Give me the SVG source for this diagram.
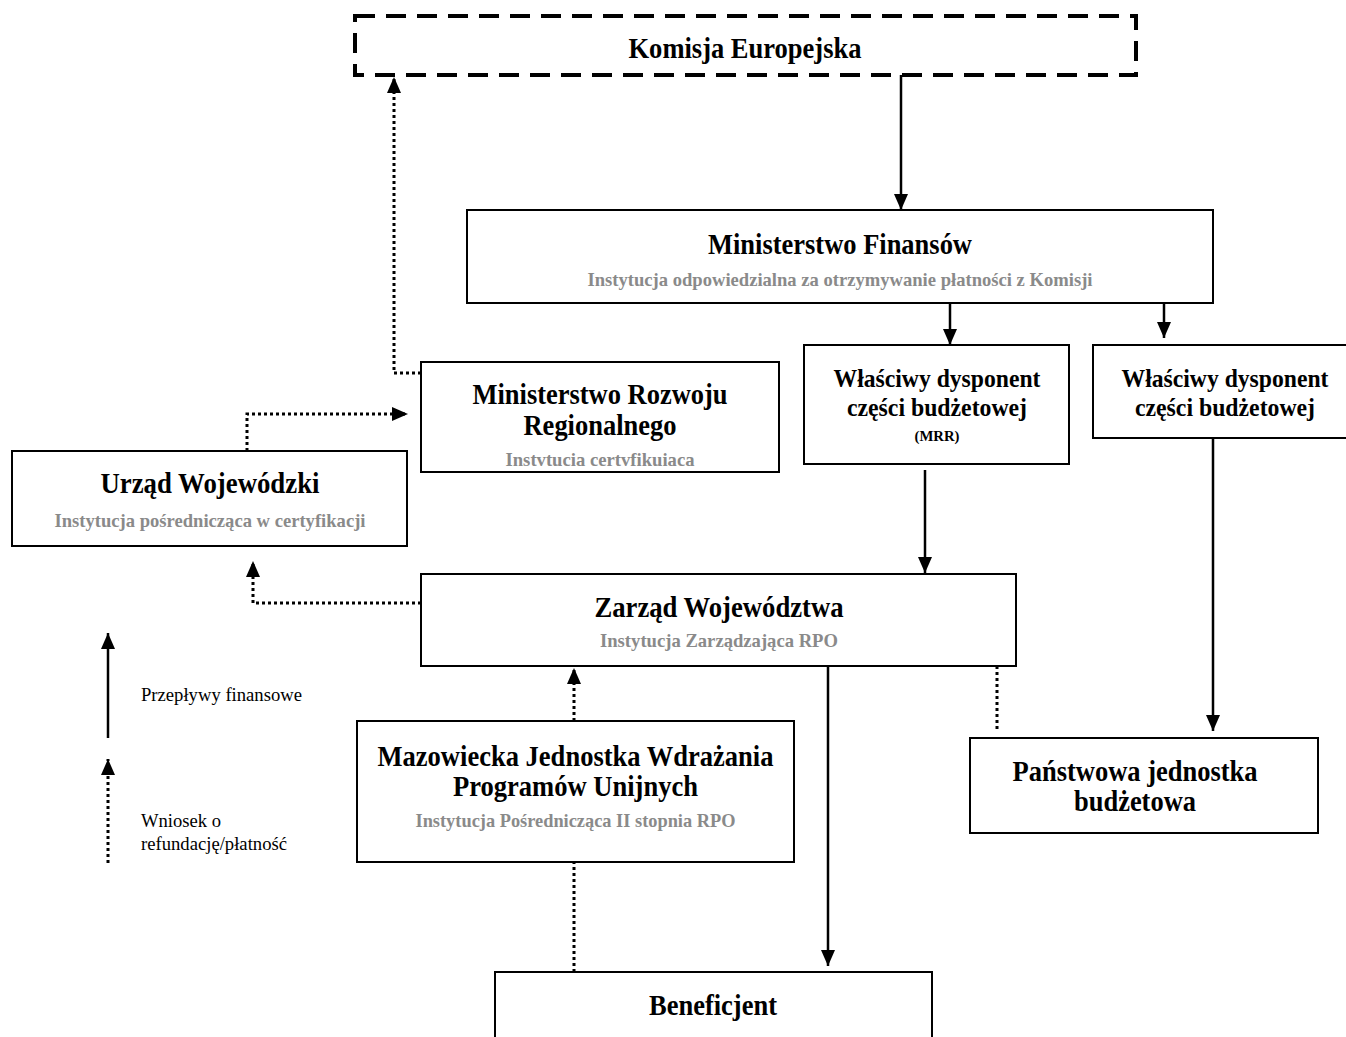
<svg xmlns="http://www.w3.org/2000/svg" width="1346" height="1037" viewBox="0 0 1346 1037">
<style>
.box{fill:#fff;stroke:#000;stroke-width:2}
.h{font-family:"Liberation Serif","Times New Roman",serif;font-weight:bold;font-size:28.5px;fill:#000;text-anchor:middle}
.m{font-family:"Liberation Serif","Times New Roman",serif;font-weight:bold;font-size:25px;fill:#000;text-anchor:middle}
.s{font-family:"Liberation Serif","Times New Roman",serif;font-weight:bold;font-size:19.5px;fill:#8a8a8a;text-anchor:middle}
.l{font-family:"Liberation Serif","Times New Roman",serif;font-size:19.5px;fill:#000}
.solid{fill:none;stroke:#000;stroke-width:2.5}
.dot{fill:none;stroke:#000;stroke-width:3;stroke-dasharray:3 3}
</style>
<defs>
<marker id="ah" viewBox="0 0 16 14" refX="16" refY="7" markerWidth="16" markerHeight="14" markerUnits="userSpaceOnUse" orient="auto">
<path d="M0,0 L16,7 L0,14 z" fill="#000"/>
</marker>
</defs>
<rect width="1346" height="1037" fill="#fff"/>

<g id="komisja">
<rect x="355" y="16" width="781" height="59" fill="#fff" stroke="#000" stroke-width="4" stroke-dasharray="20 11"/>
<text class="h" x="745" y="58" textLength="233" lengthAdjust="spacingAndGlyphs">Komisja Europejska</text>
</g>

<g id="mf">
<rect class="box" x="467" y="210" width="746" height="93"/>
<text class="h" x="840" y="254" textLength="264" lengthAdjust="spacingAndGlyphs">Ministerstwo Finansów</text>
<text class="s" x="840" y="286" textLength="505" lengthAdjust="spacingAndGlyphs">Instytucja odpowiedzialna za otrzymywanie płatności z Komisji</text>
</g>

<g id="mrr">
<rect class="box" x="421" y="362" width="358" height="110"/>
<text class="h" x="600" y="404" textLength="255" lengthAdjust="spacingAndGlyphs">Ministerstwo Rozwoju</text>
<text class="h" x="600" y="435" textLength="153" lengthAdjust="spacingAndGlyphs">Regionalnego</text>
<text class="s" x="600" y="466" textLength="189" lengthAdjust="spacingAndGlyphs">Instvtucia certvfikuiaca</text>
</g>

<g id="wdc-mrr">
<rect class="box" x="804" y="345" width="265" height="119"/>
<text class="m" x="937" y="387" textLength="207" lengthAdjust="spacingAndGlyphs">Właściwy dysponent</text>
<text class="m" x="937" y="416" textLength="180" lengthAdjust="spacingAndGlyphs">części budżetowej</text>
<text class="m" x="937" y="441" style="font-size:15.5px" textLength="45" lengthAdjust="spacingAndGlyphs">(MRR)</text>
</g>

<g id="wdc">
<rect class="box" x="1093" y="345" width="270" height="93"/>
<text class="m" x="1225" y="387" textLength="207" lengthAdjust="spacingAndGlyphs">Właściwy dysponent</text>
<text class="m" x="1225" y="416" textLength="180" lengthAdjust="spacingAndGlyphs">części budżetowej</text>
</g>

<g id="uw">
<rect class="box" x="12" y="451" width="395" height="95"/>
<text class="h" x="210" y="493" textLength="219" lengthAdjust="spacingAndGlyphs">Urząd Wojewódzki</text>
<text class="s" x="210" y="527" textLength="311" lengthAdjust="spacingAndGlyphs">Instytucja pośrednicząca w certyfikacji</text>
</g>

<g id="zw">
<rect class="box" x="421" y="574" width="595" height="92"/>
<text class="h" x="719" y="617" textLength="249" lengthAdjust="spacingAndGlyphs">Zarząd Województwa</text>
<text class="s" x="719" y="647" textLength="238" lengthAdjust="spacingAndGlyphs">Instytucja Zarządzająca RPO</text>
</g>

<g id="mjwpu">
<rect class="box" x="357" y="721" width="437" height="141"/>
<text class="h" x="575.5" y="766" textLength="396" lengthAdjust="spacingAndGlyphs">Mazowiecka Jednostka Wdrażania</text>
<text class="h" x="575.5" y="796" textLength="245" lengthAdjust="spacingAndGlyphs">Programów Unijnych</text>
<text class="s" x="575.5" y="827" textLength="320" lengthAdjust="spacingAndGlyphs">Instytucja Pośrednicząca II stopnia RPO</text>
</g>

<g id="pjb">
<rect class="box" x="970" y="738" width="348" height="95"/>
<text class="h" x="1135" y="781" textLength="245" lengthAdjust="spacingAndGlyphs">Państwowa jednostka</text>
<text class="h" x="1135" y="811" textLength="122" lengthAdjust="spacingAndGlyphs">budżetowa</text>
</g>

<g id="beneficjent">
<rect class="box" x="495" y="972" width="437" height="80"/>
<text class="h" x="713" y="1015" textLength="128" lengthAdjust="spacingAndGlyphs">Beneficjent</text>
</g>

<g id="connectors">
<path class="solid" d="M901,75 V210" marker-end="url(#ah)"/>
<path class="solid" d="M950,303 V345" marker-end="url(#ah)"/>
<path class="solid" d="M1164,303 V338" marker-end="url(#ah)"/>
<path class="solid" d="M925,470 V573" marker-end="url(#ah)"/>
<path class="solid" d="M1213,438 V731" marker-end="url(#ah)"/>
<path class="solid" d="M828,666 V966" marker-end="url(#ah)"/>
<path class="dot" d="M997,666 V732"/>
<path class="dot" d="M574,972 V862"/>
<path class="dot" d="M574,721 V668" marker-end="url(#ah)"/>
<path class="dot" d="M421,603 H253 V561" marker-end="url(#ah)"/>
<path class="dot" d="M247,451 V414 H408" marker-end="url(#ah)"/>
<path class="dot" d="M421,373 H394 V77" marker-end="url(#ah)"/>
</g>

<g id="legend">
<path class="solid" d="M108,738 V633" marker-end="url(#ah)"/>
<text class="l" x="141" y="701" textLength="161" lengthAdjust="spacingAndGlyphs">Przepływy finansowe</text>
<path class="dot" d="M108,863 V759" marker-end="url(#ah)"/>
<text class="l" x="141" y="827" textLength="80" lengthAdjust="spacingAndGlyphs">Wniosek o</text>
<text class="l" x="141" y="850" textLength="146" lengthAdjust="spacingAndGlyphs">refundację/płatność</text>
</g>
</svg>
